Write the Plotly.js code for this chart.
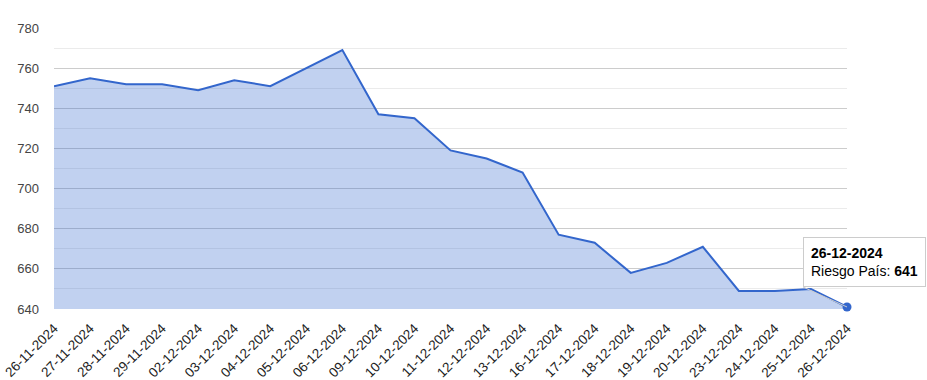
<!DOCTYPE html>
<html>
<head>
<meta charset="utf-8">
<script src="https://cdn.plot.ly/plotly-3.0.1.min.js"></script>
<style>html,body{margin:0;padding:0;background:#fff}#chart{width:927px;height:380px}</style>
</head>
<body>
<div id="chart"></div>
<script>
const dates = ["26-11-2024","27-11-2024","28-11-2024","29-11-2024","02-12-2024","03-12-2024","04-12-2024","05-12-2024","06-12-2024","09-12-2024","10-12-2024","11-12-2024","12-12-2024","13-12-2024","16-12-2024","17-12-2024","18-12-2024","19-12-2024","20-12-2024","23-12-2024","24-12-2024","25-12-2024","26-12-2024"];
const riesgo = [751,755,752,752,749,754,751,760,769,737,735,719,715,708,677,673,658,663,671,649,649,650,641];
const seriesName = "Riesgo País";

const last = dates.length - 1;
const traces = [
  {
    x: dates, y: riesgo, type: "scatter", mode: "lines",
    fill: "tozeroy", fillcolor: "rgba(51,102,204,0.3)",
    line: {color: "#3366cc", width: 2},
    name: seriesName, hoverinfo: "skip"
  },
  {
    x: [dates[last]], y: [riesgo[last]], type: "scatter", mode: "markers",
    marker: {color: "#3366cc", size: 9},
    cliponaxis: false,
    hoverinfo: "skip", showlegend: false
  }
];
const layout = {
  width: 927, height: 380,
  margin: {l: 54, r: 80, t: 28, b: 71},
  paper_bgcolor: "#fff", plot_bgcolor: "#fff",
  showlegend: false,
  font: {family: "Arial, Liberation Sans, sans-serif", size: 13, color: "#444"},
  xaxis: {
    type: "category", range: [0, last],
    tickangle: -45, showgrid: false, zeroline: false,
    ticks: "", tickfont: {size: 13.5, color: "#222"},
    ticklabelstandoff: 8,
    showline: false
  },
  yaxis: {
    range: [640, 780], dtick: 20, tick0: 640,
    gridcolor: "#cccccc", gridwidth: 1, zeroline: false,
    tickfont: {size: 13, color: "#444"}, ticks: "", ticklabelstandoff: 14,
    minor: {dtick: 10, tick0: 640, showgrid: true, gridcolor: "#ebebeb", gridwidth: 1}
  },
  annotations: [{
    x: dates[last], y: riesgo[last], xref: "x", yref: "y",
    text: "<b>" + dates[last] + "</b><br>" + seriesName + ": <b>" + riesgo[last] + "</b>",
    align: "left", showarrow: true, arrowhead: 0, arrowcolor: "#cccccc", arrowwidth: 1,
    ax: -44, ay: -20, xanchor: "left", yanchor: "bottom",
    bgcolor: "#ffffff", bordercolor: "#cccccc", borderwidth: 1, borderpad: 7,
    font: {family: "Arial, Liberation Sans, sans-serif", size: 14, color: "#000"}
  }]
};
Plotly.newPlot("chart", traces, layout, {displayModeBar: false, staticPlot: true});
</script>
</body>
</html>
